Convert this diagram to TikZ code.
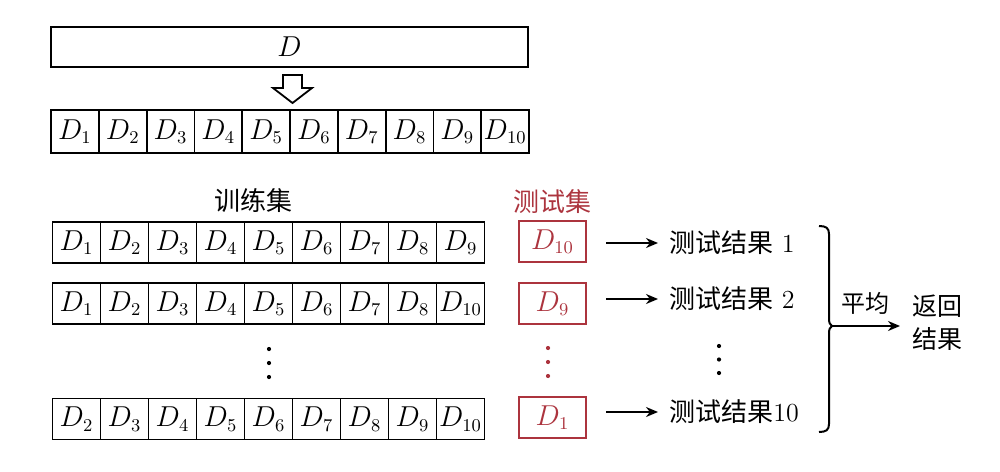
\documentclass[tikz,border=0pt]{standalone}
\usepackage{fontspec}
\newfontfamily\cjk{Noto Sans CJK SC}
\usetikzlibrary{arrows.meta}
\definecolor{tred}{RGB}{172,52,62}
\begin{document}
\begin{tikzpicture}[x=0.5pt,y=-0.5pt,
  cell/.style={draw, line width=0.9pt, inner sep=0pt, minimum width=24pt, minimum height=20.5pt,
    font=\fontsize{13.4}{16}\selectfont},
  testbox/.style={cell, draw=tred, text=tred, line width=1pt, minimum width=33.5pt, minimum height=20.5pt},
  cjklabel/.style={inner sep=0pt, font=\cjk\fontsize{13}{15}\selectfont},
  arr/.style={line width=1pt, -{Stealth[length=6pt,width=5pt]}},
  dot/.style={circle, fill, inner sep=0pt, minimum size=2.1pt},
  hollow/.style={draw, line width=0.9pt, fill=white, line join=miter}
]
\useasboundingbox (0,0) rectangle (1000,471);

% whole data set
\node[cell, minimum width=238.5pt, minimum height=20pt] (D) at (289.5,47) {$D$};

% hollow arrow
\draw[hollow] (283,75) -- (302,75) -- (302,88) -- (312,88) -- (292.5,103) -- (273,88) -- (283,88) -- cycle;

% split into 10 parts
\foreach \i in {1,...,10}
  \node[cell, minimum width=23.9pt, minimum height=21.5pt] (a\i) at ({51+47.8*(\i-0.5)},131.5) {$D_{\i}$};

% labels
\node[cjklabel] (train) at (253,201) {训练集};
\node[cjklabel, text=tred] (test) at (552,202) {测试集};

% training rows
\foreach \lab [count=\i] in {1,...,9}
  \node[cell] (r1c\i) at ({52.5+48*(\i-0.5)},242.5) {$D_{\lab}$};
\foreach \lab [count=\i] in {1,2,3,4,5,6,7,8,10}
  \node[cell] (r2c\i) at ({52.5+48*(\i-0.5)},303.5) {$D_{\lab}$};
\foreach \lab [count=\i] in {2,...,10}
  \node[cell] (r3c\i) at ({52.5+48*(\i-0.5)},419) {$D_{\lab}$};

% test boxes
\node[testbox] (t1) at (552.5,241.5) {$D_{10}$};
\node[testbox] (t2) at (552.5,303.5) {$D_{9}$};
\node[testbox] (t3) at (552.5,417.5) {$D_{1}$};

% dots
\foreach \y [count=\k] in {349,363,377} \node[dot] (bd\k) at (269,\y) {};
\foreach \y [count=\k] in {348,362,376} \node[dot, fill=tred] (rd\k) at (548,\y) {};
\foreach \y [count=\k] in {346,359.5,373} \node[dot] (md\k) at (719,\y) {};

% results
\node[cjklabel, anchor=west] (res1) at (669,243) {测试结果{\rmfamily\fontsize{13}{15}\selectfont\ 1}};
\node[cjklabel, anchor=west] (res2) at (669,299) {测试结果{\rmfamily\fontsize{13}{15}\selectfont\ 2}};
\node[cjklabel, anchor=west] (res3) at (669,412) {测试结果{\rmfamily\fontsize{13}{15}\selectfont 10}};

\draw[arr, shorten >=5.5pt] ([xshift=9.5pt]t1.east |- res1.west) -- (res1.west);
\draw[arr, shorten >=5.5pt] ([xshift=9.5pt]t2.east |- res2.west) -- (res2.west);
\draw[arr, shorten >=5.5pt] ([xshift=9.5pt]t3.east |- res3.west) -- (res3.west);

% brace
\coordinate (brtip) at (832,326);
\draw[line width=1pt, line join=round] (819,226) .. controls (826,226) and (829,228) .. (829,234) -- (829,318)
  .. controls (829,323) and (830,325) .. (brtip)
  .. controls (830,327) and (829,329) .. (829,334) -- (829,424)
  .. controls (829,430) and (826,432) .. (819,432);

% average and result
\node[cjklabel, font=\cjk\fontsize{12}{14}\selectfont] (avg) at (865,303) {平均};
\node[cjklabel, align=center, anchor=west, font=\cjk\fontsize{12.5}{16.5}\selectfont] (ret) at (912,323) {返回\\结果};
\draw[arr, shorten >=6pt] (brtip) -- (brtip -| ret.west);
\end{tikzpicture}
\end{document}
